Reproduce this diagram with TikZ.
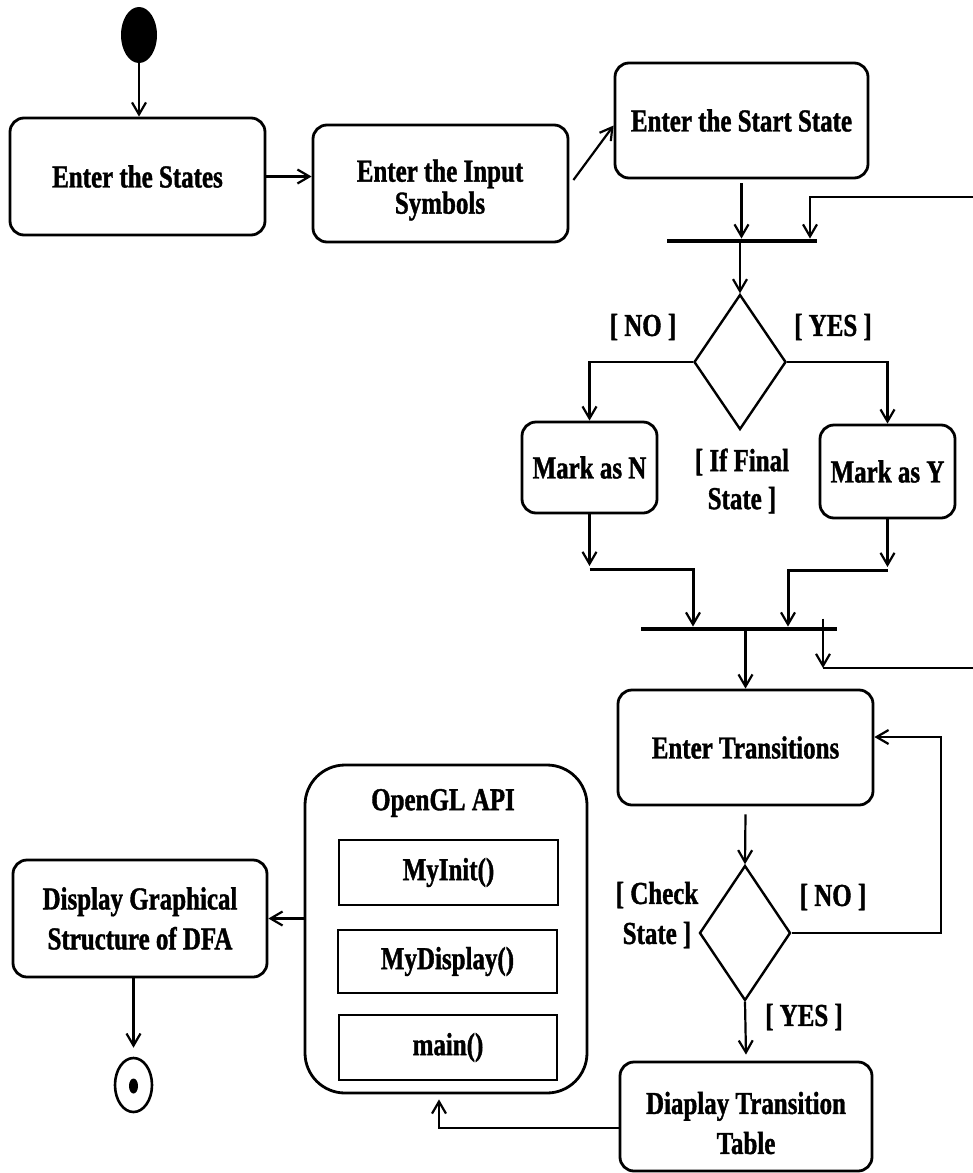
\documentclass[tikz,border=0pt]{standalone}
\usepackage{fontspec}
\setmainfont{Liberation Serif}[FakeStretch=0.78,FakeBold=1.2]
\usetikzlibrary{arrows.meta,shapes.geometric}
\tikzset{
  lbl/.style={font=\fontsize{32}{40}\selectfont\bfseries, align=center, inner sep=0pt},
  act/.style={draw, line width=2.8pt, rounded corners=14pt, inner sep=0pt, lbl},
  sq/.style={draw, line width=2.8pt, inner sep=0pt, lbl},
  dec/.style={draw, diamond, line width=2.4pt, inner sep=0pt},
  forkbar/.style={fill=black, inner sep=0pt, minimum height=4.5pt},
  arr/.style={line width=2.2pt, -{Straight Barb[length=12pt,width=14pt,line width=2.2pt]}},
  ln/.style={line width=2.4pt}
}
\begin{document}
\begin{tikzpicture}[x=1pt,y=-1pt]
\useasboundingbox (0,0) rectangle (973,1173);
% nodes
\node[ellipse, fill=black, minimum width=36pt, minimum height=56pt, inner sep=0pt] (start) at (139,35) {};
\node[act, minimum width=255pt, minimum height=117pt] (states) at (137.5,176.5) {Enter the States};
\node[act, minimum width=255pt, minimum height=117pt] (input) at (440.5,183.5) {};
\node[lbl, font=\fontsize{32}{32}\selectfont\bfseries] (inputtxt) at (440,190) {Enter the Input\\Symbols};
\node[act, minimum width=253pt, minimum height=115pt] (sstate) at (741.5,120.5) {Enter the Start State};
\node[forkbar, minimum width=150pt] (bar1) at (742,241) {};
\node[dec, minimum width=92pt, minimum height=135pt] (d1) at (740,362) {};
\node[lbl] (no1) at (643,327) {[ NO ]};
\node[lbl] (yes1) at (833,327) {[ YES ]};
\node[lbl, font=\fontsize{32}{38}\selectfont\bfseries] (iffinal) at (742,481) {[ If Final\\State ]};
\node[act, minimum width=135pt, minimum height=91pt] (markn) at (589.5,467.5) {Mark as N};
\node[act, minimum width=135pt, minimum height=93pt] (marky) at (887.5,471.5) {Mark as Y};
\node[forkbar, minimum width=196pt] (bar2) at (739,629) {};
\node[act, minimum width=255pt, minimum height=115pt] (trans) at (745.5,747.5) {Enter Transitions};
\node[dec, minimum width=91pt, minimum height=135pt] (d2) at (745,933) {};
\node[lbl] (check) at (657,915) {[ Check\\State ]};
\node[lbl] (no2) at (833,897) {[ NO ]};
\node[lbl] (yes2) at (804,1017) {[ YES ]};
\node[act, minimum width=252pt, minimum height=109pt] (table) at (746,1116.5) {};
\node[lbl] (tabletxt) at (746,1123) {Diaplay Transition\\Table};
\node[draw, line width=2.8pt, rounded corners=40pt, minimum width=282pt, minimum height=328pt, inner sep=0pt] (api) at (446,929) {};
\node[lbl] (apititle) at (443,803) {OpenGL API};
\node[sq, minimum width=219pt, minimum height=65pt] (init) at (448.5,872.5) {MyInit()};
\node[sq, minimum width=219pt, minimum height=63pt] (disp) at (447.5,961.5) {MyDisplay()};
\node[sq, minimum width=218pt, minimum height=65pt] (mainf) at (448,1047.5) {main()};
\node[act, minimum width=254pt, minimum height=117pt] (graph) at (140,918.5) {Display Graphical\\Structure of DFA};
\node[ellipse, draw, line width=2.6pt, minimum width=37pt, minimum height=54pt, inner sep=0pt] (end) at (133.5,1085) {};
\node[ellipse, fill=black, minimum width=9pt, minimum height=15pt, inner sep=0pt] (enddot) at (133.5,1086) {};
% coordinates
\coordinate (r1) at (973,197);
\coordinate (r2) at (973,668);
\coordinate (r3) at (941,737);
\coordinate (mnA) at (589.5,566);
\coordinate (myA) at (887.5,567);
\coordinate (lpTop) at ([xshift=84pt,yshift=8pt]bar2.north);
\coordinate (lpBot) at (lpTop |- r2);
\coordinate (tb) at ([yshift=-11.5pt]table.west);
\coordinate (apiB) at ([xshift=-7pt,yshift=-5pt]api.south);
\coordinate (endT) at ([yshift=9pt]end.north);
\coordinate (tableT) at ([yshift=6pt]table.north);
% connectors
\draw[arr] (start.south) -- (start.south |- states.north);
\draw[arr] (states.east) -- (states.east -| input.west);
\draw[arr] ([xshift=4pt,yshift=3.5pt]input.east) -- ([yshift=-5pt]sstate.west);
\draw[arr] ([yshift=-4pt]sstate.south) -- (sstate.south |- bar1.north);
\draw[arr] (r1) -| ([xshift=68pt]bar1.north);
\draw[arr] (bar1.south -| d1.north) -- (d1.north);
\draw[arr] (d1.west) -| (markn.north);
\draw[arr] (d1.east) -| (marky.north);
\draw[arr] (markn.south) -- (mnA);
\draw[arr, line width=3pt] ([yshift=-3pt]mnA) -| ([xshift=-46pt]bar2.north);
\draw[arr] (marky.south) -- (myA);
\draw[arr, line width=3pt] ([yshift=-3pt]myA) -| ([xshift=49pt]bar2.north);
\draw[arr] (lpTop) -- (lpBot);
\draw[ln] (lpBot) -- (r2);
\draw[arr] (bar2.south -| trans.north) -- (trans.north);
\draw[arr] ([yshift=-8pt]trans.south) -- (d2.north);
\draw[arr] (d2.east) -| (r3) -- (r3 -| trans.east);
\draw[arr] (d2.south) -- (tableT);
\draw[arr] (tb) -| (apiB);
\draw[arr] (api.west |- graph.east) -- (graph.east);
\draw[arr] (graph.south -| end.north) -- (endT);
\end{tikzpicture}
\end{document}
